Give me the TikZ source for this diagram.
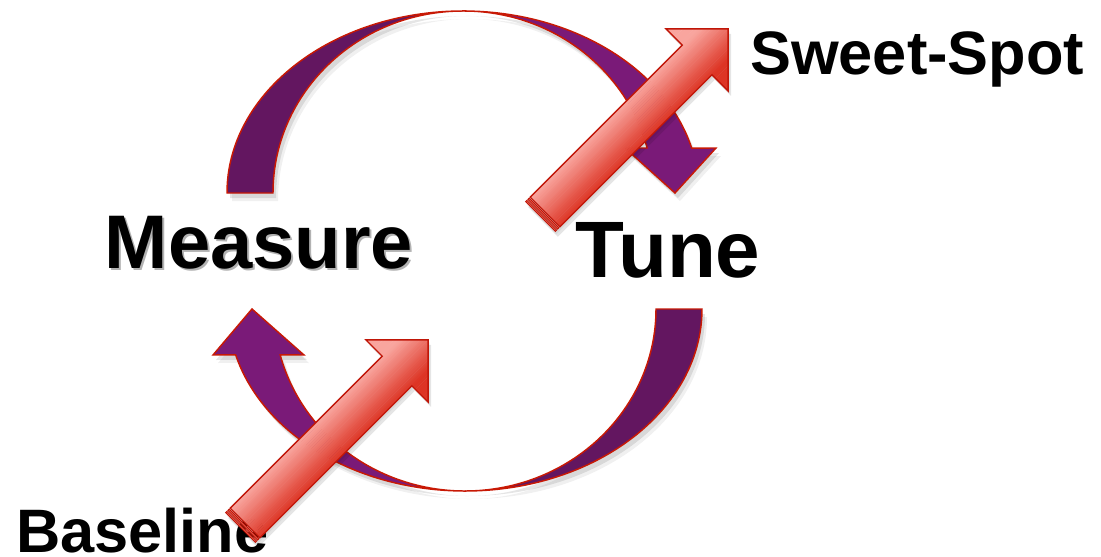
\documentclass[tikz,border=0pt]{standalone}
\usepackage{fontspec}
\setmainfont{Liberation Sans}
\definecolor{pdark}{RGB}{99,22,96}
\definecolor{plight}{RGB}{122,26,120}
\definecolor{rline}{RGB}{200,25,5}
\definecolor{alight}{RGB}{249,165,158}
\definecolor{adark}{RGB}{221,52,36}
\definecolor{aline}{RGB}{192,22,8}
\tikzset{
  arcline/.style={draw=rline, line width=1.1pt, line join=miter},
  shadowA/.style={fill=black, opacity=0.10},
  shadowB/.style={fill=black, opacity=0.06},
  lbl/.style={inner sep=0pt, anchor=base west},
  redline/.style={draw=aline, line width=1pt, line join=miter},
}
% crescent halves of the two circular arrows
\newcommand\TopL[1]{\path[#1] (227,193) arc[start angle=180,end angle=270,x radius=236,y radius=182]
   arc[start angle=270,end angle=180,x radius=190,y radius=182] -- cycle;}
\newcommand\TopR[1]{\path[#1] (463,11) arc[start angle=270,end angle=345.7,x radius=236,y radius=182]
   -- (716,148) -- (675,193) -- (625,148) -- (647.1,148)
   arc[start angle=345.7,end angle=270,x radius=190,y radius=182] -- cycle;}
\newcommand\BotR[1]{\path[#1] (702,309) arc[start angle=0,end angle=90,x radius=237,y radius=182]
   arc[start angle=90,end angle=0,x radius=191,y radius=182] -- cycle;}
\newcommand\BotL[1]{\path[#1] (465,491) arc[start angle=90,end angle=165.4,x radius=237,y radius=182]
   -- (213,355) -- (252,309) -- (304,355) -- (280.2,354.9)
   arc[start angle=165.4,end angle=90,x radius=191,y radius=182] -- cycle;}
% red block arrow at 45 degrees, tail centre at (#1,#2)
\newcommand\ArrowShape[1]{\path[#1] (0,-21) -- (215,-21) -- (215,-44) -- (259,0) -- (215,44) -- (215,21) -- (0,21) -- cycle;}
\newcommand\RedArrow[2]{%
  \begin{scope}[shift={({#1+3},{#2+5})},rotate=45]
    \path[shadowA] (-7,-21) -- (215,-21) -- (215,-44) -- (259,0) -- (215,44) -- (215,21) -- (-7,21) -- cycle;
  \end{scope}
  \begin{scope}[shift={({#1+1.5},{#2+2.5})},rotate=45]
    \path[shadowB] (-7,-21) -- (215,-21) -- (215,-44) -- (259,0) -- (215,44) -- (215,21) -- (-7,21) -- cycle;
  \end{scope}
  \begin{scope}[shift={(#1,#2)},rotate=45]
    \begin{scope}
      \ArrowShape{clip}
      \foreach \k in {0,...,45}{%
        \pgfmathsetmacro\yy{-46+2*\k}%
        \pgfmathtruncatemacro\pp{max(0,min(100,(21-\yy)*100/42))}%
        \fill[alight!\pp!adark] (-2,\yy) rectangle (262,\yy+2.3);
      }
    \end{scope}
    \ArrowShape{redline}
    \path[redline, fill=alight!45!adark, line width=0.7pt] (-3.2,-21) rectangle (-1.4,21);
    \path[redline, fill=alight!45!adark, line width=0.7pt] (-6.4,-21) rectangle (-4.6,21);
  \end{scope}}
\begin{document}
\begin{tikzpicture}[x=0.75pt,y=-0.75pt]
  \useasboundingbox (0,0) rectangle (1101,557);
  % shadows of the circular arrows
  \TopL{shadowA, shift={(3,5)}}
  \TopR{shadowA, shift={(3,5)}}
  \BotR{shadowA, shift={(3,5)}}
  \BotL{shadowA, shift={(3,5)}}
  \TopL{shadowB, shift={(5,8)}}
  \TopR{shadowB, shift={(5,8)}}
  \BotR{shadowB, shift={(5,8)}}
  \BotL{shadowB, shift={(5,8)}}
  % circular arrows
  \TopL{fill=pdark, arcline}
  \TopR{fill=plight, arcline}
  \BotR{fill=pdark, arcline}
  \BotL{fill=plight, arcline}
  % labels
  \node[lbl, text=black!30, font={\bfseries\fontsize{57}{60}\selectfont}] (measureshadow) at (106.5,270) {Measure};
  \node[lbl, font={\bfseries\fontsize{57}{60}\selectfont}] (measure) at (104.5,268) {Measure};
  \node[lbl, font={\bfseries\fontsize{60}{64}\selectfont}] (tune) at (575,277) {Tune};
  \node[lbl, font={\bfseries\fontsize{46}{50}\selectfont}] (sweet) at (750,74) {Sweet-Spot};
  \node[lbl, text depth=0pt, font={\bfseries\fontsize{46}{50}\selectfont}] (baseline) at (16,552) {Baseline};
  % red arrows
  \RedArrow{545}{212}
  \RedArrow{245}{523}
\end{tikzpicture}
\end{document}
